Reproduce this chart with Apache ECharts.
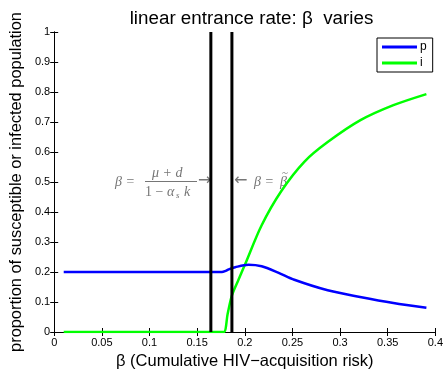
<!DOCTYPE html>
<html>
<head>
<meta charset="utf-8">
<script src="https://cdn.jsdelivr.net/npm/echarts@6/dist/echarts.min.js"></script>
<style>html,body{margin:0;padding:0;background:#fff}#c{width:446px;height:375px}</style>
</head>
<body>
<div id="c"></div>
<script>
var xTicks = [0, 0.05, 0.1, 0.15, 0.2, 0.25, 0.3, 0.35, 0.4];
var yTicks = [0, 0.1, 0.2, 0.3, 0.4, 0.5, 0.6, 0.7, 0.8, 0.9, 1];
var seriesNames = ['p', 'i'];
var pBeta = [0.01, 0.17, 0.176, 0.18, 0.1832, 0.19, 0.2038, 0.2177, 0.235, 0.252, 0.287, 0.321, 0.356, 0.3906];
var pVals = [0.2, 0.2, 0.2, 0.204, 0.209, 0.216, 0.224, 0.219, 0.198, 0.174, 0.139, 0.117, 0.097, 0.081];
var iBeta = [0.01, 0.17, 0.178, 0.182, 0.1865, 0.1935, 0.2, 0.2176, 0.2384, 0.2627, 0.287, 0.3214, 0.356, 0.3906];
var iVals = [0, 0, 0, 0.06, 0.122, 0.175, 0.223, 0.355, 0.47, 0.568, 0.633, 0.706, 0.756, 0.793];
var vLines = [0.1644, 0.1865];

function zip(a, b) { return a.map(function (v, k) { return [v, b[k]]; }); }

var chart = echarts.init(document.getElementById('c'));
var axisCommon = {
  type: 'value',
  axisLine: { show: true, lineStyle: { color: '#000', width: 1 } },
  axisTick: { show: true, inside: true, length: 4, lineStyle: { color: '#000' } },
  splitLine: { show: false }
};
var font = 'Liberation Sans, Arial, sans-serif';
var texFont = 'Liberation Serif, DejaVu Serif, serif';
var gray = '#767676';

var vSeries = vLines.map(function (v) {
  return {
    name: 'v' + v, type: 'line', data: [[v, 0], [v, 1]], symbol: 'none', silent: true,
    lineStyle: { color: '#000', width: 3 }, z: 4
  };
});

chart.setOption({
  animation: false,
  backgroundColor: '#fff',
  title: {
    text: 'linear entrance rate: \u03b2  varies',
    left: 246.5, textAlign: 'center', top: 4,
    textStyle: { fontFamily: font, fontSize: 18.8, fontWeight: 'normal', color: '#000' }
  },
  legend: {
    data: seriesNames,
    orient: 'vertical',
    left: 377, top: 38,
    padding: [3, 6, 3, 5],
    itemWidth: 35, itemHeight: 3, itemGap: 4,
    icon: 'rect',
    borderColor: '#000', borderWidth: 1,
    textStyle: { fontFamily: font, fontSize: 12, color: '#000', padding: [0, 0, 0, -2] }
  },
  grid: { left: 53, right: 7, top: 32, bottom: 43 },
  xAxis: [
    Object.assign({}, axisCommon, {
      min: 0, max: 0.4, interval: 0.05, position: 'bottom',
      name: '\u03b2 (Cumulative HIV\u2212acquisition risk)',
      nameLocation: 'middle', nameGap: 17,
      nameTextStyle: { fontFamily: font, fontSize: 16.5, color: '#000' },
      axisLabel: { fontFamily: font, fontSize: 11, color: '#000', margin: 5,
        formatter: function (v) { return String(+v.toFixed(2)); } }
    }),
    Object.assign({}, axisCommon, {
      min: 0, max: 0.4, interval: 0.05, position: 'top', axisLabel: { show: false }
    })
  ],
  yAxis: [
    Object.assign({}, axisCommon, {
      min: 0, max: 1, interval: 0.1, position: 'left',
      name: 'proportion of susceptible or infected population',
      nameLocation: 'middle', nameGap: 25,
      nameTextStyle: { fontFamily: font, fontSize: 16.4, color: '#000' },
      axisLabel: { fontFamily: font, fontSize: 11, color: '#000', margin: 4,
        formatter: function (v) { return String(+v.toFixed(1)); } }
    }),
    Object.assign({}, axisCommon, {
      min: 0, max: 1, interval: 0.1, position: 'right', axisLabel: { show: false }
    })
  ],
  series: [
    {
      name: seriesNames[0], type: 'line', data: zip(pBeta, pVals), smooth: 0.3,
      showSymbol: false, symbol: 'none', lineStyle: { color: '#0000ff', width: 2.5 },
      itemStyle: { color: '#0000ff' }, z: 3
    },
    {
      name: seriesNames[1], type: 'line', data: zip(iBeta, iVals), smooth: 0.3,
      showSymbol: false, symbol: 'none', lineStyle: { color: '#00ff00', width: 2.5 },
      itemStyle: { color: '#00ff00' }, z: 2
    }
  ].concat(vSeries),
  graphic: [
    { type: 'text', left: 115, top: 175, style: { text: '\u03b2 =', font: 'italic 14px ' + texFont, fill: gray } },
    { type: 'text', left: 152, top: 166, style: { text: '\u03bc + d', font: 'italic 14px ' + texFont, fill: gray } },
    { type: 'rect', shape: { x: 145, y: 181, width: 52, height: 1 }, style: { fill: gray } },
    { type: 'text', left: 145, top: 185, style: { text: '1 \u2212 ', font: '14px ' + texFont, fill: gray } },
    { type: 'text', left: 167, top: 185, style: { text: '\u03b1', font: 'italic 14px ' + texFont, fill: gray } },
    { type: 'text', left: 176, top: 191, style: { text: 's', font: 'italic 9px ' + texFont, fill: gray } },
    { type: 'text', left: 184, top: 185, style: { text: 'k', font: 'italic 14px ' + texFont, fill: gray } },
    { type: 'text', left: 198, top: 173, style: { text: '\u2192', font: '16px DejaVu Sans, sans-serif', fill: gray } },
    { type: 'text', left: 234, top: 173, style: { text: '\u2190', font: '16px DejaVu Sans, sans-serif', fill: gray } },
    { type: 'text', left: 254, top: 175, style: { text: '\u03b2 =', font: 'italic 14px ' + texFont, fill: gray } },
    { type: 'text', left: 280, top: 175, style: { text: '\u03b2', font: 'italic 14px ' + texFont, fill: gray } },
    { type: 'text', left: 282, top: 168, style: { text: '~', font: '11px ' + texFont, fill: gray } }
  ]
});
</script>
</body>
</html>
